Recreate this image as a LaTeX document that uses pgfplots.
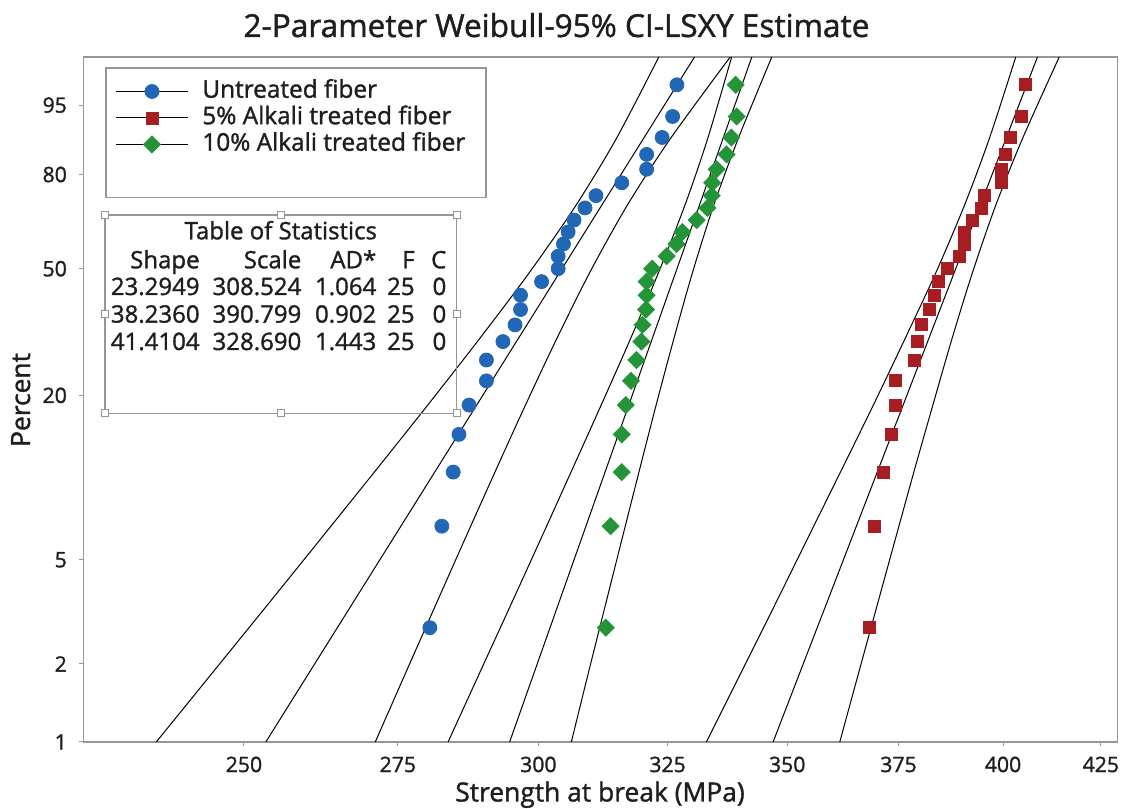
\documentclass[border=0pt]{standalone}
\usepackage{pgfplots}
\usepackage{pgfplotstable}
\pgfplotsset{compat=1.18}
\usepackage{fontspec}
\setmainfont{Open Sans}[FakeBold=1.3]
\definecolor{mtblue}{RGB}{34,102,182}
\definecolor{mtred}{RGB}{166,30,34}
\definecolor{mtgreen}{RGB}{36,148,56}
\definecolor{framegray}{RGB}{150,150,150}
\definecolor{txt}{RGB}{30,30,30}

% y values are Weibull-scaled percents: ln(-ln(1-p))
\pgfplotstableread{
x W
280.5 -3.5776
282.6 -2.6697
284.6 -2.1859
285.6 -1.8487
287.4 -1.5866
290.5 -1.3699
290.5 -1.1835
293.5 -1.0184
295.7 -0.8691
296.7 -0.7318
296.7 -0.6035
300.6 -0.4823
303.7 -0.3665
303.7 -0.2547
304.7 -0.1456
305.6 -0.0381
306.7 0.0690
308.8 0.1769
310.9 0.2871
315.9 0.4017
320.8 0.5231
320.8 0.6557
323.9 0.8071
326.0 0.9948
326.9 1.2785
}\untreated

\pgfplotstableread{
x W
368.4 -3.5776
369.5 -2.6697
371.4 -2.1859
373.4 -1.8487
374.3 -1.5866
374.3 -1.3699
378.6 -1.1835
379.4 -1.0184
380.4 -0.8691
382.3 -0.7318
383.5 -0.6035
384.4 -0.4823
386.5 -0.3665
389.5 -0.2547
390.5 -0.1456
390.5 -0.0381
392.6 0.0690
394.8 0.1769
395.6 0.2871
399.7 0.4017
399.7 0.5231
400.7 0.6557
401.8 0.8071
404.6 0.9948
405.6 1.2785
}\fivepct

\pgfplotstableread{
x W
312.8 -3.5776
313.7 -2.6697
315.9 -2.1859
315.9 -1.8487
316.7 -1.5866
317.7 -1.3699
318.8 -1.1835
319.8 -1.0184
320.0 -0.8691
320.7 -0.7318
320.8 -0.6035
320.8 -0.4823
321.9 -0.3665
324.8 -0.2547
326.8 -0.1456
328.0 -0.0381
330.9 0.0690
333.1 0.1769
334.0 0.2871
334.1 0.4017
335.0 0.5231
337.1 0.6557
338.1 0.8071
339.2 0.9948
339.0 1.2785
}\tenpct

% 95% confidence bounds
\pgfplotstableread{
W bL bU gL gU rL rU
-4.60015 236.78 271.18 283.68 306.18 332.90 361.59
-4.0 244.90 276.18 289.13 309.36 339.88 365.71
-3.4 253.29 281.29 294.68 312.58 346.99 369.89
-2.8 261.92 286.53 300.31 315.87 354.22 374.13
-2.2 270.81 291.91 306.01 319.21 361.56 378.47
-1.6 279.92 297.49 311.78 322.64 369.01 382.93
-1.0 289.16 303.36 317.55 326.22 376.43 387.58
-0.4 298.35 309.71 323.19 330.07 383.75 392.58
0.2 307.07 316.97 328.50 334.42 390.61 398.23
0.8 314.87 325.62 333.19 339.54 396.70 404.89
1.52718 323.23 337.83 338.15 346.68 403.17 414.18
}\ci

\begin{document}
\begin{tikzpicture}
\useasboundingbox (-41.5pt,-33pt) rectangle (523pt,371pt);
\begin{axis}[
  scale only axis, width=517pt, height=342.5pt,
  at={(0pt,0pt)}, anchor=south west,
  xmode=log, xmin=226.3, xmax=429.3,
  ymin=-4.60015, ymax=1.52718,
  xtick={250,275,300,325,350,375,400,425},
  xticklabels={250,275,300,325,350,375,400,425},
  ytick={-4.60015,-3.90194,-2.97020,-1.49994,-0.36651,0.47589,1.09719},
  yticklabels={1,2,5,20,50,80,95},
  xminorticks=false, yminorticks=false,
  tick pos=left, tick align=outside,
  major tick length=2pt,
  tick style={framegray, line width=0.5pt},
  axis line style={framegray, line width=0.6pt},
  /pgf/number format/assume math mode=true,
  ticklabel style={font=\fontsize{10.6}{12}\selectfont, text=txt},
  xticklabel shift=1.8pt, yticklabel shift=2.6pt,
  legend cell align=left,
  legend image code/.code={
    \draw[black,line width=0.5pt] (0pt,0pt) -- (36pt,0pt);
    \draw[#1,mark repeat=2,mark phase=2] plot coordinates {(0pt,0pt) (18pt,0pt) (36pt,0pt)};
    \path (43pt,0pt);
  },
  legend style={at={(axis description cs:0.0309,0.9674)}, anchor=north west,
    draw=none, fill=none, inner sep=0pt, row sep=1.5pt,
    font=\fontsize{12.2}{14}\selectfont, text=txt,
    nodes={inner sep=0pt, text height=9pt, text depth=2.75pt}},
]
% confidence bounds and fitted lines
\addplot[black, line width=0.5pt, smooth, forget plot] table[x=bL, y=W] {\ci};
\addplot[black, line width=0.5pt, smooth, forget plot] table[x=bU, y=W] {\ci};
\addplot[black, line width=0.5pt, smooth, forget plot] table[x=gL, y=W] {\ci};
\addplot[black, line width=0.5pt, smooth, forget plot] table[x=gU, y=W] {\ci};
\addplot[black, line width=0.5pt, smooth, forget plot] table[x=rL, y=W] {\ci};
\addplot[black, line width=0.5pt, smooth, forget plot] table[x=rU, y=W] {\ci};
\addplot[black, line width=0.5pt, forget plot] coordinates {(253.40,-4.60015) (330.45,1.52718)};
\addplot[black, line width=0.5pt, forget plot] coordinates {(294.71,-4.60015) (342.39,1.52718)};
\addplot[black, line width=0.5pt, forget plot] coordinates {(346.95,-4.60015) (408.63,1.52718)};
% data
\addplot[only marks, mark=*, mark size=3.5pt, color=mtblue] table[x=x, y=W] {\untreated};
\addlegendentry{Untreated fiber}
\addplot[only marks, mark=square*, mark size=3pt, color=mtred] table[x=x, y=W] {\fivepct};
\addlegendentry{5\% Alkali treated fiber}
\addplot[only marks, mark=square*, mark size=3pt, mark options={rotate=45}, color=mtgreen] table[x=x, y=W] {\tenpct};
\addlegendentry{10\% Alkali treated fiber}
\end{axis}

\begin{scope}[x=0.5pt,y=-0.5pt,shift={(-41.5pt,371pt)}]
% title and axis labels
\node[anchor=base, text=txt, font=\fontsize{15.8}{19}\selectfont] at (556.5,37) {2-Parameter Weibull-95\% CI-LSXY Estimate};
\node[anchor=base, text=txt, font=\fontsize{13.2}{16}\selectfont] at (600,801.5) {Strength at break (MPa)};
\node[anchor=base, rotate=90, text=txt, font=\fontsize{13.2}{16}\selectfont] at (30,400) {Percent};
% legend frame
\draw[framegray, line width=0.6pt] (106,68) rectangle (486,197.5);
% table of statistics
\draw[framegray, line width=0.6pt] (105,215) rectangle (456.7,413.3);
\foreach \hx/\hy in {105/215, 280.8/215, 456.7/215, 105/314.2, 456.7/314.2, 105/413.3, 280.8/413.3, 456.7/413.3}
  \draw[framegray, fill=white, line width=0.5pt] (\hx-3.5,\hy-3.5) rectangle (\hx+3.5,\hy+3.5);
\begin{scope}[every node/.style={text=txt, font=\fontsize{12}{14}\selectfont, inner sep=0pt}]
\node[anchor=base] at (280.8,239.3) {Table of Statistics};
\node[anchor=base east] at (200,268.3) {Shape};
\node[anchor=base east] at (301.7,268.3) {Scale};
\node[anchor=base east] at (376.7,268.3) {AD*};
\node[anchor=base east] at (415,268.3) {F};
\node[anchor=base east] at (446.7,268.3) {C};
\node[anchor=base east] at (200,295) {23.2949};
\node[anchor=base east] at (301.7,295) {308.524};
\node[anchor=base east] at (376.7,295) {1.064};
\node[anchor=base east] at (415,295) {25};
\node[anchor=base east] at (446.7,295) {0};
\node[anchor=base east] at (200,322.6) {38.2360};
\node[anchor=base east] at (301.7,322.6) {390.799};
\node[anchor=base east] at (376.7,322.6) {0.902};
\node[anchor=base east] at (415,322.6) {25};
\node[anchor=base east] at (446.7,322.6) {0};
\node[anchor=base east] at (200,350) {41.4104};
\node[anchor=base east] at (301.7,350) {328.690};
\node[anchor=base east] at (376.7,350) {1.443};
\node[anchor=base east] at (415,350) {25};
\node[anchor=base east] at (446.7,350) {0};
\end{scope}
\end{scope}
\end{tikzpicture}
\end{document}
